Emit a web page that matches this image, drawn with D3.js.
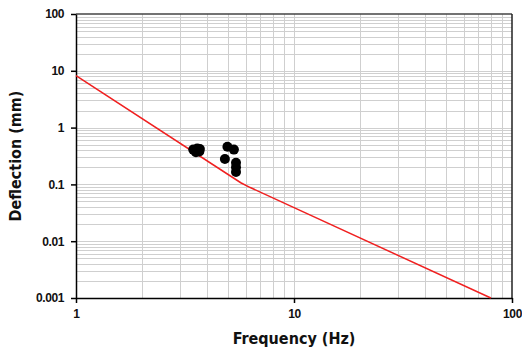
<!DOCTYPE html>
<html lang="en">
<head>
    <meta charset="UTF-8">
    <title>Deflection vs Frequency</title>
    <script src="https://d3js.org/d3.v7.min.js"></script>
    <style>
        body { margin: 0; background: #fff; }
        .grid line { stroke: #cfcfcf; stroke-width: 1px; shape-rendering: crispEdges; }
        .axis path, .axis line { stroke: #000; stroke-width: 1.5px; }
        .axis text {
            font-family: "Liberation Sans", Arial, sans-serif;
            font-weight: bold; font-size: 12px; fill: #111;
            letter-spacing: -0.4px;
        }
        .title {
            font-family: "DejaVu Sans Condensed", "DejaVu Sans", sans-serif;
            font-weight: bold; font-size: 16px; fill: #111;
        }
    </style>
</head>
<body>
    <div id="chart"></div>
    <script>
        // limit line (frequency Hz, deflection mm)
        const limitFreq = [1, 5.7, 6.3, 80];
        const limitDefl = [8.2, 0.107, 0.088, 0.001];

        // measured points
        const measFreq = [3.45, 3.6, 3.7, 3.55, 3.68, 4.95, 5.3, 4.82, 5.42, 5.42, 5.42];
        const measDefl = [0.41, 0.43, 0.42, 0.37, 0.38, 0.46, 0.41, 0.28, 0.24, 0.2, 0.165];

        const yTicks = [100, 10, 1, 0.1, 0.01, 0.001];
        const yTickLabels = ["100", "10", "1", "0.1", "0.01", "0.001"];
        const xTicks = [1, 10, 100];
        const xTickLabels = ["1", "10", "100"];

        const W = 522, H = 347;
        const margin = { top: 14, right: 10, bottom: 49, left: 76 };
        const width = W - margin.left - margin.right;
        const height = H - margin.top - margin.bottom;

        const svg = d3.select("#chart").append("svg")
            .attr("width", W)
            .attr("height", H);

        const g = svg.append("g")
            .attr("transform", `translate(${margin.left},${margin.top})`);

        const x = d3.scaleLog().domain([1, 100]).range([0, width]);
        const y = d3.scaleLog().domain([0.001, 100]).range([height, 0]);

        // minor + major grid values
        const xGrid = [];
        for (let d = 1; d < 100; d *= 10)
            for (let k = 1; k <= 9; k++) xGrid.push(d * k);
        const yGrid = [];
        for (let d = 0.001; d < 99; d *= 10)
            for (let k = 1; k <= 9; k++) yGrid.push(+(d * k).toPrecision(3));

        const grid = g.append("g").attr("class", "grid");
        grid.selectAll(".vx").data(xGrid.slice(1)).enter().append("line")
            .attr("x1", d => Math.round(x(d)) + 0.5).attr("x2", d => Math.round(x(d)) + 0.5)
            .attr("y1", 0).attr("y2", height);
        grid.selectAll(".hy").data(yGrid.slice(1)).enter().append("line")
            .attr("y1", d => Math.round(y(d)) + 0.5).attr("y2", d => Math.round(y(d)) + 0.5)
            .attr("x1", 0).attr("x2", width);

        // frame top / right
        g.append("line").attr("x1", 0).attr("x2", width).attr("y1", 0).attr("y2", 0)
            .attr("stroke", "#444").attr("stroke-width", 1.5);
        g.append("line").attr("x1", width).attr("x2", width).attr("y1", 0).attr("y2", height)
            .attr("stroke", "#222").attr("stroke-width", 1.5);

        const xAxis = d3.axisBottom(x)
            .tickValues(xTicks)
            .tickFormat((d, i) => xTickLabels[i])
            .tickSize(5).tickPadding(6).tickSizeOuter(0);
        const yAxis = d3.axisLeft(y)
            .tickValues(yTicks)
            .tickFormat((d, i) => yTickLabels[i])
            .tickSize(5).tickPadding(7).tickSizeOuter(0);

        g.append("g").attr("class", "x axis")
            .attr("transform", `translate(0,${height})`)
            .call(xAxis);
        g.append("g").attr("class", "y axis").call(yAxis);

        // limit line
        const limit = limitFreq.map((f, i) => ({ f: f, d: limitDefl[i] }));
        g.append("path")
            .datum(limit)
            .attr("fill", "none")
            .attr("stroke", "#f02020")
            .attr("stroke-width", 1.5)
            .attr("d", d3.line().x(d => x(d.f)).y(d => y(d.d)));

        // measured points
        const meas = measFreq.map((f, i) => ({ f: f, d: measDefl[i] }));
        g.selectAll(".pt").data(meas).enter().append("circle")
            .attr("class", "pt")
            .attr("cx", d => x(d.f))
            .attr("cy", d => y(d.d))
            .attr("r", 5)
            .attr("fill", "#000");

        // titles
        svg.append("text").attr("class", "title")
            .attr("x", margin.left + width / 2)
            .attr("y", 344)
            .attr("text-anchor", "middle")
            .text("Frequency (Hz)");
        svg.append("text").attr("class", "title")
            .attr("transform", `translate(21,${margin.top + height / 2}) rotate(-90)`)
            .attr("text-anchor", "middle")
            .text("Deflection (mm)");
    </script>
</body>
</html>
